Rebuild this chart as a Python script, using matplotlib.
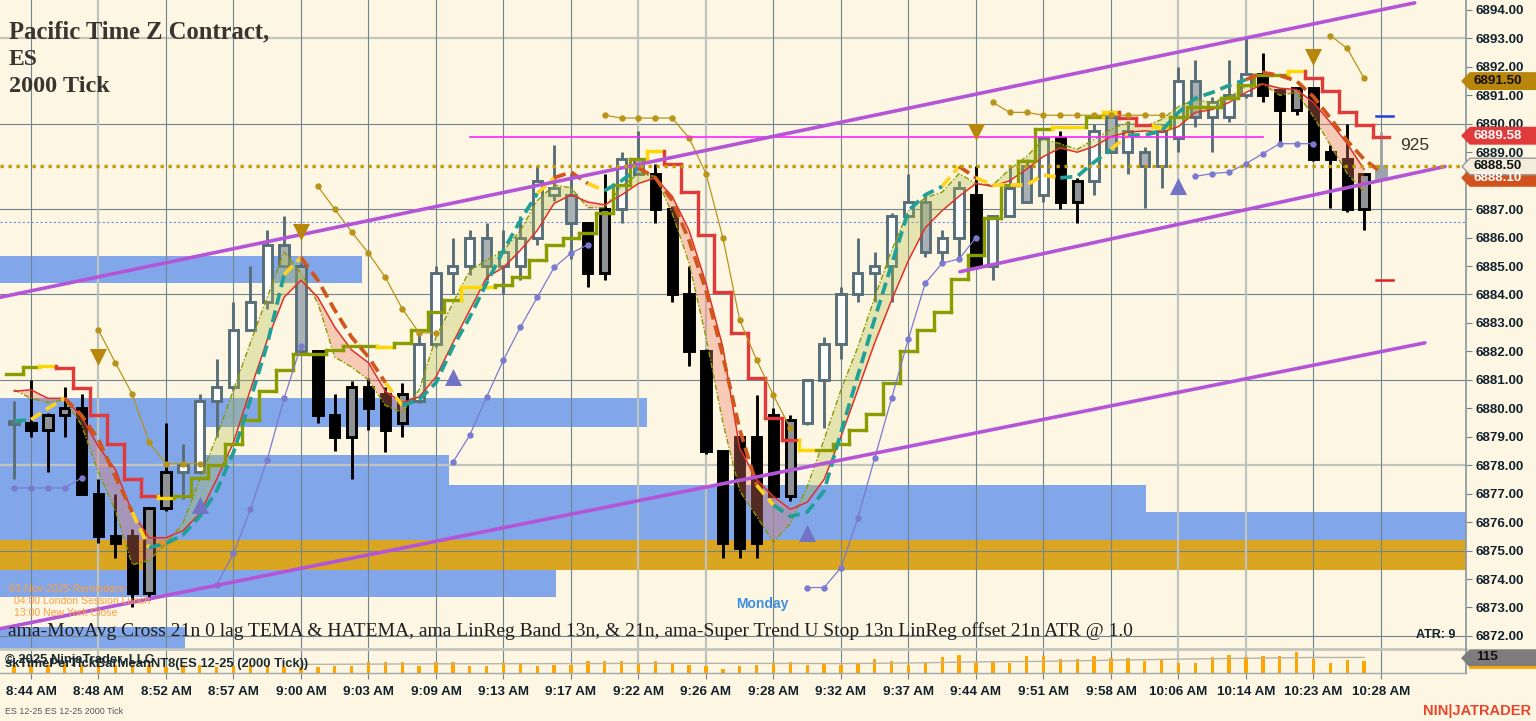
import matplotlib
matplotlib.use('Agg')
import matplotlib.pyplot as plt
from matplotlib.patches import Rectangle, Polygon
from matplotlib.transforms import blended_transform_factory

# ---------------- data (bar index 0 = 8:44 AM) ----------------
first_bar = -1
opens = [6879.5, 6879.5, 6879.25, 6879.75, 6880.0, 6877.0, 6875.5, 6875.5, 6873.5, 6876.5,
         6877.75, 6877.75, 6880.25, 6880.75, 6882.75, 6883.75, 6885.75, 6885.0, 6882.0, 6879.75,
         6879.0, 6880.75, 6880.5, 6879.5, 6880.25, 6882.25, 6884.75, 6885.0, 6886.0, 6885.0,
         6885.0, 6886.0, 6887.5, 6887.5, 6886.5, 6884.75, 6887.0, 6888.75, 6888.25, 6887.0,
         6884.0, 6882.0, 6878.5, 6879.0, 6879.0, 6879.75, 6876.9, 6879.5, 6881.0, 6882.25,
         6884.0, 6884.75, 6885.0, 6886.75, 6887.25, 6885.5, 6886.0, 6887.5, 6885.0, 6886.75,
         6888.5, 6887.5, 6889.5, 6887.25, 6888.0, 6890.25, 6889.0, 6889.0, 6888.5, 6889.5,
         6891.5, 6890.25, 6890.25, 6891.0, 6891.75, 6891.2, 6890.5, 6891.25, 6889.0, 6888.75,
         6887.0, 6888.1]
highs = [6880.25, 6881.0, 6879.85, 6880.75, 6880.5, 6877.5, 6877.0, 6875.75, 6876.5, 6879.5,
         6878.75, 6880.5, 6881.75, 6883.75, 6885.0, 6886.25, 6886.75, 6885.1, 6882.0, 6880.5,
         6880.95, 6881.05, 6880.75, 6880.9, 6882.75, 6885.0, 6886.0, 6886.25, 6886.5, 6886.25,
         6886.75, 6888.5, 6889.25, 6888.25, 6886.5, 6888.25, 6889.0, 6889.75, 6888.6, 6887.1,
         6885.0, 6882.1, 6878.5, 6879.0, 6880.45, 6880.0, 6879.75, 6881.0, 6882.5, 6884.25,
         6886.0, 6885.5, 6886.85, 6888.25, 6887.5, 6886.25, 6888.0, 6888.5, 6886.75, 6888.5,
         6888.75, 6889.5, 6889.75, 6888.1, 6890.0, 6890.5, 6890.1, 6889.2, 6890.0, 6892.0,
         6892.25, 6890.95, 6892.25, 6893.0, 6892.5, 6891.2, 6891.3, 6891.3, 6889.25, 6890.0,
         6888.25, 6889.7]
lows = [6877.5, 6879.0, 6877.75, 6879.0, 6877.0, 6875.25, 6874.75, 6873.0, 6873.25, 6876.4,
        6876.8, 6877.75, 6879.0, 6880.65, 6882.75, 6883.5, 6885.0, 6881.95, 6879.5, 6878.5,
        6877.5, 6879.25, 6878.45, 6879.0, 6880.2, 6882.15, 6884.0, 6884.7, 6884.5, 6884.0,
        6884.5, 6885.75, 6887.3, 6885.25, 6884.25, 6884.5, 6886.5, 6888.25, 6886.5, 6883.75,
        6881.5, 6878.4, 6874.75, 6874.75, 6874.75, 6876.9, 6876.75, 6879.4, 6879.3, 6881.75,
        6883.75, 6883.75, 6883.75, 6886.75, 6885.3, 6885.15, 6885.3, 6884.9, 6884.5, 6886.75,
        6887.25, 6887.25, 6887.0, 6886.5, 6887.5, 6889.0, 6888.25, 6887.05, 6887.75, 6889.0,
        6889.9, 6889.0, 6890.05, 6890.9, 6890.75, 6889.25, 6890.3, 6888.7, 6887.05, 6886.9,
        6886.25, 6888.1]
closes = [6879.5, 6879.25, 6879.75, 6880.0, 6877.0, 6875.5, 6875.25, 6873.5, 6876.5, 6877.75,
          6878.0, 6880.25, 6880.75, 6882.75, 6883.75, 6885.75, 6885.0, 6882.0, 6879.75, 6879.0,
          6880.75, 6880.0, 6879.25, 6880.5, 6882.25, 6884.75, 6885.0, 6886.0, 6885.0, 6885.5,
          6886.0, 6888.0, 6887.75, 6886.5, 6884.75, 6887.0, 6888.75, 6888.25, 6887.0, 6884.0,
          6882.0, 6878.5, 6875.25, 6875.1, 6875.25, 6876.9, 6879.6, 6881.0, 6882.25, 6884.0,
          6884.75, 6885.0, 6886.75, 6887.25, 6885.5, 6886.0, 6887.75, 6885.0, 6886.75, 6887.75,
          6887.25, 6889.5, 6887.25, 6888.0, 6889.75, 6889.0, 6889.75, 6888.5, 6889.75, 6891.5,
          6890.25, 6890.75, 6891.0, 6891.75, 6891.0, 6890.5, 6891.25, 6888.75, 6888.75, 6887.0,
          6888.25, 6888.5]
# U = up (slate, hollow), S = down in up-leg (slate, grey), D = down (black), G = up in down-leg, F = forming
bar_style = list("UDGGDDDDGGUUUUUUSSDDGDDGUUUUSUUUUSDGUSDDDDDDDDGUUUUUUUSUUDUUSUDGUSUSUUSUUUDDGDDDGF")
volume = [60, 60, 60, 65, 58, 62, 55, 58, 58, 45, 58, 58, 45, 50, 58, 58, 45, 45, 43, 50,
          50, 81, 81, 81, 50, 81, 81, 50, 50, 81, 72, 53, 58, 58, 86, 86, 86, 72, 86, 72,
          58, 50, 29, 50, 58, 81, 81, 58, 74, 58, 74, 101, 86, 58, 72, 117, 130, 72, 81, 75,
          125, 125, 101, 101, 120, 108, 108, 87, 101, 75, 75, 112, 132, 112, 125, 125, 149, 101, 70, 95,
          83]
vol_mean_idx = [16, 24, 32, 40, 48, 52, 56, 60, 64, 68, 72, 76, 79]
vol_mean = [62, 66, 68, 70, 68, 72, 80, 84, 92, 100, 106, 112, 112]
last_volume = 115

# super trend stop (o = olive/up, r = red/down, y = yellow/switch)
st_vals = [6881.2, 6881.45, 6881.5, 6881.4, 6880.7, 6879.75, 6878.75, 6877.5, 6876.9, 6876.85,
           6876.9, 6877.55, 6878.0, 6878.75, 6879.6, 6880.6, 6881.35, 6881.9, 6881.9, 6882.05,
           6882.2, 6882.2, 6882.15, 6882.3, 6882.75, 6883.4, 6883.8, 6884.25, 6884.25, 6884.35,
           6884.6, 6885.2, 6885.75, 6886.0, 6886.15, 6886.85, 6887.85, 6888.75, 6889.05, 6888.6,
           6887.6, 6886.1, 6884.1, 6882.65, 6881.05, 6879.65, 6878.9, 6878.55, 6878.55, 6878.75,
           6879.25, 6879.8, 6880.9, 6882.0, 6882.75, 6883.4, 6884.55, 6885.4, 6886.7, 6887.85,
           6888.7, 6889.8, 6889.9, 6889.9, 6890.25, 6890.4, 6890.2, 6889.95, 6889.9, 6890.25,
           6890.6, 6890.6, 6890.9, 6891.35, 6891.7, 6891.7, 6891.85, 6891.6, 6891.15, 6890.4,
           6889.95, 6889.55]
st_runs = [('o', 2), ('y', 1), ('r', 6), ('y', 1), ('o', 12), ('y', 1), ('o', 4), ('y', 2), ('o', 9),
           ('y', 1), ('r', 8), ('y', 1), ('o', 14), ('y', 2), ('o', 1), ('y', 1), ('r', 2), ('y', 1),
           ('o', 7), ('y', 1), ('r', 5)]

# zero-lag TEMA (t = teal rising, o = orange falling, y = yellow switch)
tema_vals = [6879.55, 6879.6, 6880.0, 6880.35, 6879.75, 6878.9, 6877.6, 6876.35, 6875.1, 6875.25,
             6875.55, 6876.2, 6877.1, 6878.45, 6880.3, 6882.25, 6884.7, 6885.3, 6884.5, 6883.45,
             6882.5, 6881.8, 6880.9, 6880.1, 6880.3, 6880.9, 6882.15, 6883.2, 6884.4, 6885.55,
             6886.6, 6887.55, 6888.1, 6888.3, 6887.9, 6887.65, 6888.0, 6888.45, 6888.1, 6887.3,
             6885.9, 6884.15, 6881.85, 6879.25, 6877.3, 6876.6, 6876.2, 6876.35, 6877.1, 6879.15,
             6881.15, 6883.15, 6885.05, 6886.95, 6887.5, 6887.8, 6888.5, 6888.1, 6887.85, 6887.85,
             6887.85, 6888.2, 6888.1, 6888.15, 6888.65, 6889.1, 6889.6, 6889.6, 6889.75, 6890.4,
             6890.9, 6891.1, 6891.35, 6891.55, 6891.8, 6891.7, 6891.5, 6890.95, 6890.2, 6889.4,
             6888.75, 6888.3]
tema_runs = [('t', 2), ('y', 2), ('o', 4), ('y', 1), ('t', 8), ('y', 1), ('o', 5), ('y', 1), ('t', 8),
             ('y', 1), ('o', 2), ('y', 1), ('t', 2), ('o', 7), ('y', 1), ('t', 10), ('y', 1), ('o', 1),
             ('y', 5), ('t', 3), ('y', 1), ('t', 7), ('o', 8)]

# HATEMA (thin red) and LinReg band (olive dash-dot), bars -1 .. 79
hatema = [6880.6, 6880.65, 6880.35, 6880.35, 6879.7, 6878.65, 6877.85, 6876.35, 6875.45, 6875.45,
          6875.7, 6876.3, 6877.5, 6878.8, 6880.65, 6882.4, 6883.9, 6884.5, 6883.9, 6882.85,
          6882.05, 6881.6, 6880.6, 6880.2, 6880.4, 6881.1, 6882.3, 6883.45, 6884.6, 6884.95,
          6885.55, 6886.25, 6887.2, 6887.5, 6887.25, 6887.15, 6887.5, 6887.9, 6888.1, 6887.45,
          6886.25, 6884.4, 6882.15, 6878.6, 6877.5, 6876.9, 6876.45, 6876.7, 6877.5, 6879.0,
          6880.65, 6882.3, 6883.8, 6885.2, 6886.35, 6886.95, 6887.45, 6887.9, 6887.8, 6888.0,
          6888.4, 6888.85, 6889.15, 6889.0, 6889.2, 6889.55, 6889.7, 6889.75, 6889.7, 6889.9,
          6890.4, 6890.5, 6890.75, 6891.1, 6891.4, 6891.25, 6891.2, 6890.75, 6890.05, 6889.3,
          6888.4]
band = [6880.65, 6880.35, 6880.2, 6880.3, 6879.4, 6877.75, 6876.4, 6874.5, 6874.65, 6875.25,
        6875.95, 6877.5, 6879.0, 6880.65, 6882.3, 6883.9, 6885.5, 6884.75, 6883.7, 6881.8,
        6881.45, 6881.0, 6880.1, 6879.85, 6880.65, 6882.5, 6883.7, 6884.85, 6885.2, 6885.55,
        6886.25, 6887.3, 6887.85, 6887.75, 6887.05, 6887.05, 6887.8, 6888.25, 6888.15, 6886.85,
        6885.1, 6882.5, 6879.5, 6877.1, 6876.2, 6875.3, 6875.95, 6877.25, 6878.9, 6880.65,
        6882.15, 6883.9, 6885.55, 6886.95, 6887.4, 6887.6, 6888.25, 6887.9, 6887.85, 6888.4,
        6888.85, 6889.45, 6889.3, 6889.1, 6889.45, 6889.8, 6890.05, 6889.9, 6890.15, 6890.6,
        6890.85, 6890.75, 6890.95, 6891.3, 6891.4, 6891.0, 6891.1, 6890.25, 6889.25, 6888.25,
        6887.6]

# dotted indicator segments: (first bar, values)
gold_segments = [
    (4, [6882.75, 6881.6, 6880.5, 6878.8, 6878.05, 6878.05, 6878.05]),
    (17, [6887.8, 6887.0, 6886.2, 6885.45, 6884.6, 6883.5, 6882.65, 6882.65]),
    (34, [6890.3, 6890.2, 6890.2, 6890.2, 6890.2, 6889.5, 6888.25, 6886.0, 6883.1, 6881.7,
          6880.45, 6879.3]),
    (57, [6890.75, 6890.4, 6890.4, 6890.3, 6890.3, 6890.3, 6890.3, 6890.3, 6890.3, 6890.3, 6890.3]),
    (77, [6893.1, 6892.65, 6891.6]),
]
lav_segments = [
    (-1, [6877.2, 6877.2, 6877.2, 6877.2, 6877.55]),
    (11, [6873.8, 6874.9, 6876.45, 6878.2, 6880.35, 6882.2]),
    (25, [6878.1, 6879.05, 6880.4, 6881.7, 6882.85, 6883.9, 6884.95, 6885.45, 6885.75]),
    (46, [6873.7, 6873.7, 6874.4, 6876.15, 6878.25, 6880.35, 6882.45, 6884.4, 6885.1, 6885.25, 6886.0]),
    (69, [6888.15, 6888.25, 6888.3, 6888.6, 6888.95, 6889.3, 6889.3, 6889.3]),
]

# supply / demand zones: (x0 bar, x1 bar, low, high)
blue_zones = [(-2, 19.6, 6884.4, 6885.35), (-2, 36.5, 6879.34, 6880.36), (-2, 10.3, 6878.36, 6879.34),
              (-2, 24.8, 6877.3, 6878.36), (-2, 66.1, 6875.37, 6877.3), (66.1, 86, 6875.37, 6876.35),
              (-2, 31.1, 6873.37, 6874.32), (-2, 9.1, 6871.0, 6872.31)]
gold_zone = (-2, 86, 6874.32, 6875.37)

channel_lines = [((-1.84, 6883.9), (82.0, 6894.25)),
                 ((-1.84, 6872.25), (82.6, 6882.3)),
                 ((55.05, 6884.8), (83.8, 6888.5))]
down_triangles = [(4, 6881.8), (16, 6886.2), (56, 6889.7), (76, 6892.35)]
up_triangles = [(10, 6876.6), (25, 6881.1), (46, 6875.6), (68, 6887.8)]
magenta_level = (26, 73, 6889.55)
last_price = 6888.50
blue_dashed_level = 6886.55
target_marks = [(6890.27, '#1f3fe0'), (6884.5, '#e02020')]
price_tags = [(6891.50, '6891.50', '#b8860b', '#111111'),
              (6889.58, '6889.58', '#e03a3a', 'white'),
              (6888.10, '6888.10', '#d2521e', 'white'),
              (6888.50, '6888.50', '#f3eddc', '#111111')]
time_labels = ["8:44 AM", "8:48 AM", "8:52 AM", "8:57 AM", "9:00 AM", "9:03 AM", "9:09 AM",
               "9:13 AM", "9:17 AM", "9:22 AM", "9:26 AM", "9:28 AM", "9:32 AM", "9:37 AM",
               "9:44 AM", "9:51 AM", "9:58 AM", "10:06 AM", "10:14 AM", "10:23 AM", "10:28 AM"]
legend_text = ("ama-MovAvg Cross 21n 0 lag TEMA & HATEMA, ama LinReg Band 13n, & 21n, "
               "ama-Super Trend U Stop 13n LinReg offset 21n ATR @ 1.0")


def expand(runs):
    out = []
    for code, n in runs:
        out += [code] * n
    return out


st_cols = expand(st_runs)
tema_cols = expand(tema_runs)

# ---------------- figure ----------------
W, H = 1536, 721
BG = '#fdf6e3'
fig = plt.figure(figsize=(W / 100, H / 100), dpi=100, facecolor=BG)
ax = fig.add_axes([0, 72 / H, 1466 / W, 649 / H], facecolor=BG)
vax = fig.add_axes([0, 48 / H, 1466 / W, 24 / H], facecolor=BG, sharex=ax)

XMIN, XMAX = -1.837, 85.04
ax.set_xlim(XMIN, XMAX)
ax.set_ylim(6871.54, 6894.35)

for a in (ax, vax):
    for s in a.spines.values():
        s.set_visible(False)

# zones
for x0, x1, lo, hi in blue_zones:
    ax.add_patch(Rectangle((x0, lo), x1 - x0, hi - lo, color='#81a7ea', lw=0, zorder=1))
ax.add_patch(Rectangle((gold_zone[0], gold_zone[2]), gold_zone[1] - gold_zone[0],
                       gold_zone[3] - gold_zone[2], color='#daa520', lw=0, zorder=1.1))

# grid
light_h = [6893, 6878]
for p in range(6872, 6895, 3):
    if p in light_h:
        ax.axhline(p, color='#c3c5bd', lw=1.6, zorder=1.5)
    else:
        ax.axhline(p, color='#6f8490', lw=0.8, zorder=1.5)
light_v = [4, 36, 40, 68, 72]
for k in range(0, 81, 4):
    c, w = ('#bfc3bd', 1.6) if k in light_v else ('#70858f', 0.8)
    ax.axvline(k, color=c, lw=w, zorder=1.5)
    vax.axvline(k, color=c, lw=w, zorder=1.5)

# candles
xs = list(range(first_bar, first_bar + len(opens)))
style_map = {'U': ('#586f79', 'white'), 'S': ('#586f79', '#a9b1b5'), 'D': ('black', 'black'),
             'G': ('black', '#8f9396'), 'F': ('#9ba5a9', '#9ba5a9')}
bw = 0.55
for x, o, h, l, c, st in zip(xs, opens, highs, lows, closes, bar_style):
    ec, fc = style_map[st]
    ax.plot([x, x], [l, h], color=ec, lw=2.1, solid_capstyle='butt', zorder=3)
    lo, hi = min(o, c), max(o, c)
    if hi - lo < 0.12:
        lo, hi = (lo + hi) / 2 - 0.06, (lo + hi) / 2 + 0.06
    ax.add_patch(Rectangle((x - bw / 2, lo), bw, hi - lo, facecolor=fc, edgecolor=ec,
                           lw=2.1, zorder=3.1))

# band fill between HATEMA and LinReg band
bx = xs[:len(hatema)]
ax.fill_between(bx, hatema, band, where=[b >= h for b, h in zip(band, hatema)], interpolate=True,
                color='#b5be4a', alpha=0.32, lw=0, zorder=3.3)
ax.fill_between(bx, hatema, band, where=[b < h for b, h in zip(band, hatema)], interpolate=True,
                color='#ee7a62', alpha=0.35, lw=0, zorder=3.3)
ax.plot(bx, band, color='#8a9a00', lw=1.0, ls=(0, (4, 1.5, 1, 1.5)), zorder=3.5)
ax.plot(bx, hatema, color='#e0302a', lw=1.1, zorder=3.6)

# super trend step line
st_color = {'o': '#8a9c00', 'r': '#e03a3a', 'y': '#ffd700'}
for j, (x, v, c) in enumerate(zip(xs, st_vals, st_cols)):
    ax.plot([x - 0.5, x + 0.5], [v, v], color=st_color[c], lw=2.4, solid_capstyle='projecting', zorder=4)
    if j + 1 < len(st_vals):
        ax.plot([x + 0.5, x + 0.5], [v, st_vals[j + 1]], color=st_color[st_cols[j + 1]], lw=2.4,
                solid_capstyle='projecting', zorder=4)

# TEMA dashed, drawn in colour runs
tema_color = {'t': '#20a096', 'o': '#d0561c', 'y': '#ffd21f'}
start = 0
for j in range(1, len(tema_vals) + 1):
    if j == len(tema_vals) or tema_cols[j] != tema_cols[start]:
        seg_x = xs[max(start - 1, 0):j]
        seg_y = tema_vals[max(start - 1, 0):j]
        ax.plot(seg_x, seg_y, color=tema_color[tema_cols[start]], lw=2.7, ls=(0, (3.2, 1.6)),
                zorder=4.2)
        start = j

# dotted indicator lines
for s0, vals in gold_segments:
    ax.plot(range(s0, s0 + len(vals)), vals, color='#b8941a', lw=0.9, marker='o', ms=3.6, zorder=4.4)
for s0, vals in lav_segments:
    ax.plot(range(s0, s0 + len(vals)), vals, color='#7a7ad0', lw=0.9, marker='o', ms=3.6, zorder=4.4)

# channel lines
for (x0, y0), (x1, y1) in channel_lines:
    ax.plot([x0, x1], [y0, y1], color='#b455d8', lw=2.6, solid_capstyle='round', zorder=5)

# levels
ax.plot([magenta_level[0], magenta_level[1]], [magenta_level[2]] * 2, color='#ff22ff', lw=1.2, zorder=4.5)
ax.axhline(blue_dashed_level, color='#6d90e0', lw=0.8, ls=(0, (2, 2)), zorder=2)
ax.axhline(last_price, color='#c49a08', lw=2.4, ls=(0, (1, 1.4)), zorder=5.2)
for p, col in target_marks:
    ax.plot([79.7, 80.7], [p, p], color=col, lw=1.8, zorder=5)

# signal triangles
ax.scatter([t[0] for t in down_triangles], [t[1] for t in down_triangles], marker='v', s=150,
           color='#b8860b', zorder=5.5, lw=0)
ax.scatter([t[0] for t in up_triangles], [t[1] for t in up_triangles], marker='^', s=150,
           color='#7373c6', zorder=5.5, lw=0)

# y axis on the right
ax.yaxis.tick_right()
ax.set_yticks(range(6872, 6895))
ax.set_yticklabels([f"{p:.2f}" for p in range(6872, 6895)], fontsize=9.6, fontweight='bold',
                   color='#10202c', family='Liberation Sans')
ax.tick_params(axis='y', length=4, width=0.8, color='#6f8490', pad=3)
ax.tick_params(axis='x', bottom=False, labelbottom=False)
ax.axvline(XMAX, color='#8796a0', lw=1.2, zorder=6, clip_on=False)

# price tags
tr = blended_transform_factory(ax.transAxes, ax.transData)
x_l, x_p, x_r = 1462 / 1466, 1470 / 1466, 1540 / 1466
for p, label, fc, tc in price_tags:
    hh = 0.29
    ec = '#9a9a9a' if fc == '#f3eddc' else fc
    ax.add_patch(Polygon([(x_l, p), (x_p, p + hh), (x_r, p + hh), (x_r, p - hh), (x_p, p - hh)],
                         closed=True, facecolor=fc, edgecolor=ec, lw=1, transform=tr,
                         clip_on=False, zorder=7))
    ax.text(1474 / 1466, p, label, transform=tr, ha='left', va='center', fontsize=9.6,
            fontweight='bold', color=tc, family='Liberation Sans', zorder=8, clip_on=False)

ax.text(82.0, 6889.25, "925", ha='center', va='center', fontsize=12.5, color='#333333',
        family='Liberation Sans', zorder=6)

# volume panel
vax.set_ylim(0, 173)
vax.bar(xs[:len(volume)], volume, width=0.2, color='#ffa500', zorder=3)
vax.plot(vol_mean_idx, vol_mean, color='#b8b4a8', lw=1.0, zorder=3.5)
vax.set_yticks([])
vax.axhline(173, color='#c4c6be', lw=2.0, zorder=4, clip_on=False)
vax.axhline(0, color='#a0aaae', lw=1.0, zorder=4, clip_on=False)
vax.axvline(XMAX, color='#8796a0', lw=1.2, zorder=6, clip_on=False)
vax.set_xticks(range(0, 81, 4))
vax.set_xticklabels(time_labels, fontsize=9.6, fontweight='bold', color='#10202c',
                    family='Liberation Sans')
vax.tick_params(axis='x', length=4, width=0.8, color='#6f8490', pad=5.5)
vtr = blended_transform_factory(vax.transAxes, vax.transData)
vax.add_patch(Polygon([(x_l, 108), (x_p, 166), (x_r, 166), (x_r, 46), (x_p, 46)], closed=True,
                      facecolor='#7d7d7d', edgecolor='#7d7d7d', transform=vtr, clip_on=False, zorder=7))
vax.plot([x_p, x_r], [40, 40], color='#ffa500', lw=2, transform=vtr, clip_on=False, zorder=7)
vax.text(1476 / 1466, 112, str(last_volume), transform=vtr, ha='left', va='center', fontsize=9.6,
         fontweight='bold', color='#111111', family='Liberation Sans', zorder=8, clip_on=False)


# ---------------- text overlays (figure pixel positions) ----------------
def fx(px):
    return px / W


def fy(py):
    return 1 - py / H


def fit(t, width_px):
    r = fig.canvas.get_renderer()
    bb = t.get_window_extent(r)
    t.set_fontsize(t.get_fontsize() * width_px / bb.width)


for k, (line, w) in enumerate([("Pacific Time Z Contract,", 262), ("ES", 29), ("2000 Tick", 101)]):
    t = fig.text(fx(9), fy(32 + 27.5 * k), line, ha='left', va='center', fontsize=16,
                 fontweight='bold', color='#3a3430', family='Liberation Serif', zorder=10)
    fit(t, w)

t = fig.text(fx(8), fy(631), legend_text, ha='left', va='center', fontsize=13,
             color='#1e1e1e', family='Liberation Serif', zorder=10)
fit(t, 1117)

fig.text(fx(762), fy(604), "Monday", ha='center', va='center', fontsize=10, fontweight='bold',
         color='#3f8fe0', family='Liberation Sans', zorder=10)
for line, x, y in [("03-Nov-2025 Reminders:", 9, 589), ("04:00 London Session Lunch", 14, 601),
                   ("13:00 New York Close", 14, 613)]:
    fig.text(fx(x), fy(y), line, ha='left', va='center', fontsize=7.6, color='#ffa040',
             family='Liberation Sans', zorder=10)
fig.text(fx(1455), fy(635), "ATR: 9", ha='right', va='center', fontsize=9, fontweight='bold',
         color='#10202c', family='Liberation Sans', zorder=10)
fig.text(fx(5), fy(660), "\u00a9 2025 NinjaTrader, LLC", ha='left', va='center', fontsize=9.4,
         fontweight='bold', color='#1a2a30', family='Liberation Sans', zorder=10)
fig.text(fx(5), fy(664), "skTimePerTickBarMeanNT8(ES 12-25 (2000 Tick))", ha='left', va='center',
         fontsize=9.4, fontweight='bold', color='#1a2a30', family='Liberation Sans', zorder=10)
fig.text(fx(5), fy(711), "ES 12-25 ES 12-25 2000 Tick", ha='left', va='center', fontsize=6.4,
         color='#555555', family='Liberation Sans', zorder=10)
fig.text(fx(1531), fy(711), "NIN|JATRADER", ha='right', va='center', fontsize=10.5,
         fontweight='bold', color='#e8452c', family='Liberation Sans', zorder=10)

fig.savefig('out.png', dpi=100, facecolor=BG)
